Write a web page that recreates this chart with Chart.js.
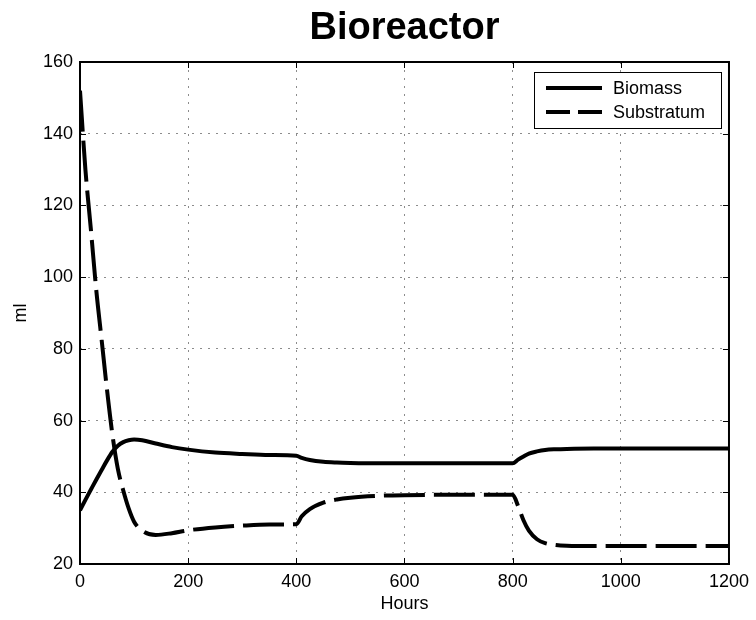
<!DOCTYPE html>
<html>
<head>
<meta charset="utf-8">
<script src="https://cdn.jsdelivr.net/npm/chart.js@4/dist/chart.umd.min.js"></script>
<style>
  html, body { margin: 0; padding: 0; background: #fff; }
  canvas { display: block; }
</style>
</head>
<body>
<canvas id="chart" width="756" height="620"></canvas>
<script>
// simulation output, sampled in hours
const hours = [0, 10, 20, 30, 40, 50, 60, 70, 80, 90, 100, 115, 140, 170, 200, 250, 300, 350, 400,
  410, 425, 450, 475, 500, 550, 600, 700, 800, 810, 820, 830, 845, 860, 880, 900, 950, 1000, 1100, 1200];
const biomass = [35, 37.9, 40.7, 43.5, 46.2, 48.9, 51.3, 53.0, 54.0, 54.5, 54.7, 54.5, 53.6, 52.6, 51.9, 51.1, 50.7, 50.4, 50.2,
  49.6, 49.0, 48.5, 48.3, 48.2, 48.1, 48.1, 48.1, 48.1, 49.1, 50.0, 50.8, 51.4, 51.8, 52.0, 52.1, 52.2, 52.2, 52.2, 52.2];
const substratum = [152, 130, 113.5, 96.5, 82.5, 68.5, 56, 46.5, 40.5, 35.5, 31.8, 29.3, 28.1, 28.6, 29.4, 30.2, 30.7, 31.0, 31.1,
  33.3, 35.3, 37.1, 38.0, 38.5, 39.0, 39.2, 39.3, 39.3, 36.2, 32.2, 29.3, 26.9, 25.8, 25.3, 25.1, 25.0, 25.0, 25.0, 25.0];
const seriesNames = ["Biomass", "Substratum"];
const xTicks = [0, 200, 400, 600, 800, 1000, 1200];
const yTicks = [20, 40, 60, 80, 100, 120, 140, 160];

const FONT = "'Liberation Sans', Arial, Helvetica, sans-serif";

function toPoints(ys) {
  return hours.map((h, i) => ({ x: h, y: ys[i] }));
}

// axes box, inward ticks, title and legend like a matlab figure
const matlabFrame = {
  id: "matlabFrame",
  afterDatasetsDraw(chart) {
    const { ctx, chartArea: a, scales } = chart;
    ctx.save();
    ctx.strokeStyle = "#000";
    ctx.lineWidth = 1;
    ctx.beginPath();
    xTicks.forEach(v => {
      const px = Math.round(scales.x.getPixelForValue(v)) + 0.5;
      ctx.moveTo(px, a.bottom); ctx.lineTo(px, a.bottom - 6);
      ctx.moveTo(px, a.top); ctx.lineTo(px, a.top + 6);
    });
    yTicks.forEach(v => {
      const py = Math.round(scales.y.getPixelForValue(v)) + 0.5;
      ctx.moveTo(a.left, py); ctx.lineTo(a.left + 6, py);
      ctx.moveTo(a.right, py); ctx.lineTo(a.right - 6, py);
    });
    ctx.stroke();
    ctx.lineWidth = 2;
    ctx.strokeRect(a.left, a.top, a.right - a.left, a.bottom - a.top);

    // title
    ctx.fillStyle = "#000";
    ctx.font = "bold 38px " + FONT;
    ctx.textAlign = "center";
    ctx.textBaseline = "middle";
    ctx.fillText("Bioreactor", (a.left + a.right) / 2, 29);

    // legend
    const bx = 534, by = 72, bw = 187, bh = 56;
    ctx.fillStyle = "#fff";
    ctx.fillRect(bx, by, bw, bh);
    ctx.lineWidth = 1;
    ctx.strokeRect(bx + 0.5, by + 0.5, bw, bh);
    ctx.font = "18px " + FONT;
    ctx.textAlign = "left";
    chart.data.datasets.forEach((ds, i) => {
      const y = by + 16 + i * 24;
      ctx.strokeStyle = ds.borderColor;
      ctx.lineWidth = ds.borderWidth;
      ctx.setLineDash(i === 0 ? [] : [24, 8]);
      ctx.beginPath();
      ctx.moveTo(546, y); ctx.lineTo(602, y);
      ctx.stroke();
      ctx.setLineDash([]);
      ctx.fillStyle = "#000";
      ctx.fillText(ds.label, 613, y + 1);
    });
    ctx.restore();
  }
};

new Chart(document.getElementById("chart"), {
  type: "line",
  data: {
    datasets: [
      {
        label: seriesNames[0],
        data: toPoints(biomass),
        borderColor: "#000",
        borderWidth: 4,
        pointRadius: 0,
        cubicInterpolationMode: "monotone",
        fill: false
      },
      {
        label: seriesNames[1],
        data: toPoints(substratum),
        borderColor: "#000",
        borderWidth: 4,
        borderDash: [41, 9],
        pointRadius: 0,
        cubicInterpolationMode: "monotone",
        fill: false
      }
    ]
  },
  options: {
    responsive: false,
    animation: false,
    layout: { padding: { top: 62, right: 23, left: 0, bottom: 0 } },
    plugins: { legend: { display: false }, title: { display: false }, tooltip: { enabled: false } },
    scales: {
      x: {
        type: "linear",
        min: 0,
        max: 1200,
        afterBuildTicks: s => { s.ticks = xTicks.map(v => ({ value: v })); },
        afterFit: s => { s.height = 56; },
        grid: { color: "#8c8c8c", lineWidth: 1, drawTicks: false },
        border: { display: false, dash: [2, 6] },
        ticks: { color: "#000", font: { family: FONT, size: 18 }, padding: 7, maxRotation: 0, callback: v => String(v) },
        title: { display: true, text: "Hours", color: "#000", font: { family: FONT, size: 18 }, padding: { bottom: 5 } }
      },
      y: {
        min: 20,
        max: 160,
        afterBuildTicks: s => { s.ticks = yTicks.map(v => ({ value: v })); },
        afterFit: s => { s.width = 80; },
        grid: { color: "#8c8c8c", lineWidth: 1, drawTicks: false },
        border: { display: false, dash: [2, 6] },
        ticks: { color: "#000", font: { family: FONT, size: 18 }, padding: 7, callback: v => String(v) },
        title: { display: true, text: "ml", color: "#000", font: { family: FONT, size: 18 }, padding: { top: 10 } }
      }
    }
  },
  plugins: [matlabFrame]
});
</script>
</body>
</html>
